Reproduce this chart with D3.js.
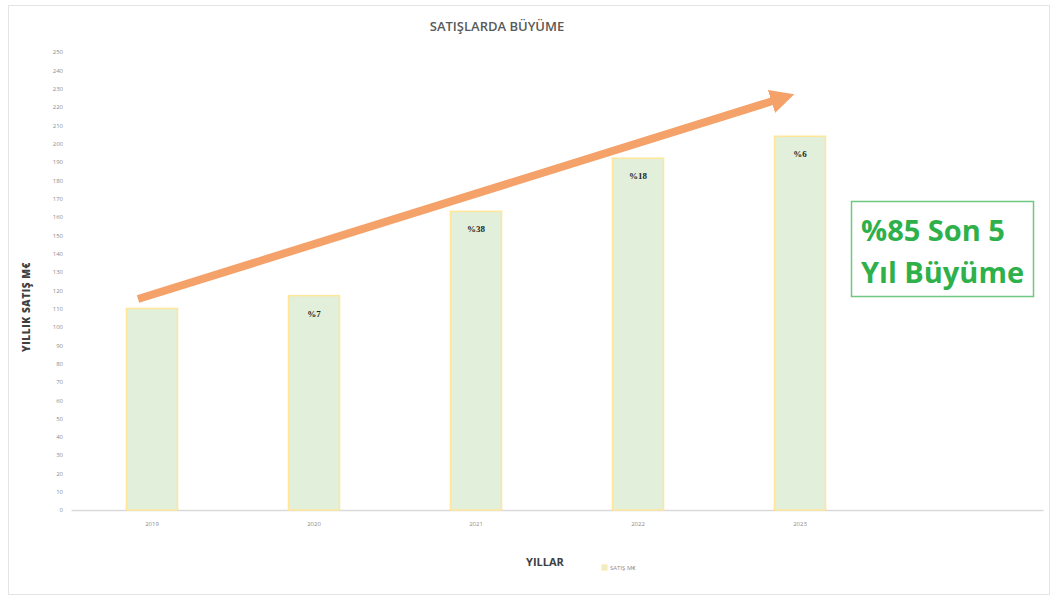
<!DOCTYPE html>
<html>
<head>
<meta charset="utf-8">
<script src="https://cdn.jsdelivr.net/npm/d3@7"></script>
<style>
  body { margin: 0; background: #fff; }
  svg { display: block; }
</style>
</head>
<body>
<svg id="chart" width="1059" height="600"></svg>
<script>
  // data
  var YEARS = ['2019', '2020', '2021', '2022', '2023', '']
  var SALES = [110, 117, 163, 192, 204]
  var GROWTH = ['', '%7', '%38', '%18', '%6']
  var Y_TICKS = d3.range(0, 251, 10)

  var W = 1059, H = 600
  var margin = { left: 71, right: 16, top: 52, bottom: 90 }

  var svg = d3.select('#chart')

  // outer frame
  svg.append('rect')
    .attr('x', 8.5).attr('y', 5.5)
    .attr('width', 1041).attr('height', 589)
    .attr('fill', '#fff')
    .attr('stroke', '#e4e4e4')

  var x = d3.scaleBand()
    .domain(YEARS)
    .range([margin.left, W - margin.right])
    .paddingInner(0.685)
    .paddingOuter(0.3425)
  var y = d3.scaleLinear()
    .domain([0, 250])
    .range([510, 52])

  // title
  svg.append('text')
    .attr('x', 497).attr('y', 31)
    .attr('text-anchor', 'middle')
    .attr('font-family', 'Open Sans, sans-serif')
    .attr('font-size', 13)
    .attr('font-weight', 600)
    .attr('fill', '#595959')
    .text('SATIŞLARDA BÜYÜME')

  // y axis (labels only)
  var yAxis = d3.axisLeft(y).tickValues(Y_TICKS).tickSize(0).tickPadding(8)
  var gy = svg.append('g')
    .attr('transform', 'translate(' + margin.left + ',0)')
    .call(yAxis)
  gy.select('.domain').remove()
  gy.selectAll('text')
    .attr('font-family', 'Open Sans, sans-serif')
    .attr('font-size', 6)
    .attr('fill', '#8c8c8c')

  // x axis
  var xAxis = d3.axisBottom(x).tickSize(0).tickPadding(12)
  var gx = svg.append('g')
    .attr('transform', 'translate(0,' + y(0) + ')')
    .call(xAxis)
  gx.select('.domain').attr('stroke', '#d9d9d9').attr('stroke-width', 1.5)
  gx.selectAll('text')
    .attr('font-family', 'Open Sans, sans-serif')
    .attr('font-size', 6)
    .attr('fill', '#8c8c8c')

  // bars
  svg.selectAll('rect.bar')
    .data(SALES)
    .enter().append('rect')
    .attr('class', 'bar')
    .attr('x', function (d, i) { return x(YEARS[i]) })
    .attr('y', function (d) { return y(d) })
    .attr('width', x.bandwidth())
    .attr('height', function (d) { return y(0) - y(d) })
    .attr('fill', '#e2efda')
    .attr('stroke', '#ffe699')
    .attr('stroke-width', 1.5)

  // growth labels
  svg.selectAll('text.lbl')
    .data(SALES)
    .enter().append('text')
    .attr('class', 'lbl')
    .attr('x', function (d, i) { return x(YEARS[i]) + x.bandwidth() / 2 })
    .attr('y', function (d) { return y(d) + 21 })
    .attr('text-anchor', 'middle')
    .attr('font-family', 'Liberation Serif, serif')
    .attr('font-size', 9)
    .attr('font-weight', 'bold')
    .attr('fill', '#262626')
    .text(function (d, i) { return GROWTH[i] })

  // axis titles
  svg.append('text')
    .attr('transform', 'translate(30,307) rotate(-90)')
    .attr('text-anchor', 'middle')
    .attr('font-family', 'Open Sans, sans-serif')
    .attr('font-size', 10)
    .attr('font-weight', 800)
    .attr('letter-spacing', 0.6)
    .attr('fill', '#404040')
    .text('YILLIK SATIŞ M€')

  svg.append('text')
    .attr('x', 545).attr('y', 566)
    .attr('text-anchor', 'middle')
    .attr('font-family', 'Open Sans, sans-serif')
    .attr('font-size', 11)
    .attr('font-weight', 'bold')
    .attr('fill', '#404040')
    .text('YILLAR')

  // legend
  svg.append('rect')
    .attr('x', 602).attr('y', 565)
    .attr('width', 5).attr('height', 5)
    .attr('fill', '#e2efda').attr('stroke', '#ffe699')
  svg.append('text')
    .attr('x', 610).attr('y', 570)
    .attr('font-family', 'Open Sans, sans-serif')
    .attr('font-size', 6)
    .attr('fill', '#8c8c8c')
    .text('SATIŞ M€')

  // trend arrow
  var defs = svg.append('defs')
  defs.append('marker')
    .attr('id', 'head')
    .attr('viewBox', '0 0 10 10')
    .attr('refX', 2).attr('refY', 5)
    .attr('markerWidth', 3).attr('markerHeight', 3)
    .attr('orient', 'auto')
    .append('path')
    .attr('d', 'M0,0 L10,5 L0,10 Z')
    .attr('fill', '#f4a26a')
  svg.append('line')
    .attr('x1', 138).attr('y1', 299)
    .attr('x2', 776).attr('y2', 100)
    .attr('stroke', '#f4a26a')
    .attr('stroke-width', 8)
    .attr('marker-end', 'url(#head)')

  // note box
  svg.append('rect')
    .attr('x', 851.5).attr('y', 201.5)
    .attr('width', 182).attr('height', 95)
    .attr('fill', '#fff')
    .attr('stroke', '#70c77f')
    .attr('stroke-width', 1.5)
  var note = svg.append('text')
    .attr('font-family', 'Open Sans, sans-serif')
    .attr('font-size', 29)
    .attr('font-weight', 'bold')
    .attr('fill', '#2eb04a')
  note.append('tspan').attr('x', 861).attr('y', 241).text('%85 Son 5')
  note.append('tspan').attr('x', 861).attr('y', 283).text('Yıl Büyüme')
</script>
</body>
</html>
